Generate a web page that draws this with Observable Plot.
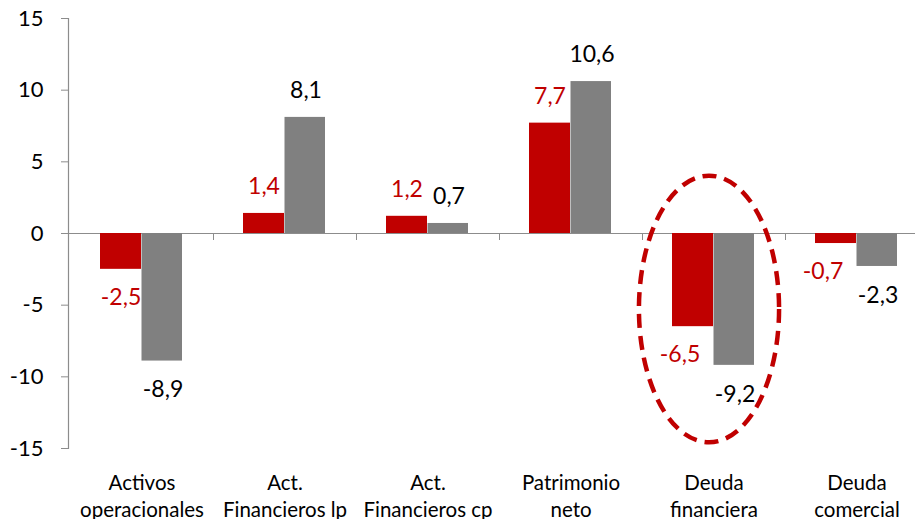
<!DOCTYPE html>
<html>
<head>
<meta charset="utf-8">
<script src="https://cdn.jsdelivr.net/npm/d3@7"></script>
<script src="https://cdn.jsdelivr.net/npm/@observablehq/plot@0.6"></script>
<style>
  html, body { margin: 0; padding: 0; background: #fff; overflow: hidden; }
  #chart svg { display: block; max-width: none !important; }
</style>
</head>
<body>
<div id="chart"></div>
<script>
const categories = ["Activos operacionales", "Act. Financieros lp", "Act. Financieros cp", "Patrimonio neto", "Deuda financiera", "Deuda comercial"];
const tickLabels = ["Activos\noperacionales", "Act.\nFinancieros lp", "Act.\nFinancieros cp", "Patrimonio\nneto", "Deuda\nfinanciera", "Deuda\ncomercial"];
const redValues = [-2.5, 1.4, 1.2, 7.7, -6.5, -0.7];
const grayValues = [-8.9, 8.1, 0.7, 10.6, -9.2, -2.3];
const yTicks = [-15, -10, -5, 0, 5, 10, 15];
const highlightCategory = "Deuda financiera";

const RED = "#C00000", GRAY = "#808080", AXIS = "#8c8c8c";
const FONT = "Lato, 'Open Sans', 'Noto Sans', sans-serif";

const redData = categories.map((c, i) => ({cat: c, v: redValues[i]}));
const grayData = categories.map((c, i) => ({cat: c, v: grayValues[i]}));
const fmt = v => v.toFixed(1).replace(".", ",");
const nudged = new Set(["Deuda financiera", "Deuda comercial"]);

function boundaryTicks(index, scales) {
  const g = d3.create("svg:g");
  const y0 = scales.y(0);
  categories.slice(1).forEach(c => {
    const x = Math.round(scales.x(c)) + 0.5;
    g.append("line").attr("x1", x).attr("x2", x).attr("y1", y0).attr("y2", y0 + 7)
      .attr("stroke", AXIS).attr("stroke-width", 1);
  });
  return g.node();
}

function highlightEllipse(index, scales) {
  const bw = scales.x.bandwidth ? scales.x.bandwidth() : (scales.x(categories[1]) - scales.x(categories[0]));
  const cx = scales.x(highlightCategory) + bw / 2 - 4.5;
  const yTop = scales.y(4), yBot = scales.y(-14.6);
  const cy = (yTop + yBot) / 2, ry = (yBot - yTop) / 2;
  const rx = bw * 0.49;
  return d3.create("svg:ellipse")
    .attr("cx", cx).attr("cy", cy).attr("rx", rx).attr("ry", ry)
    .attr("fill", "none").attr("stroke", RED).attr("stroke-width", 4.5)
    .attr("stroke-dasharray", "14,8").node();
}

const chart = Plot.plot({
  width: 930,
  height: 519,
  marginLeft: 68,
  marginRight: 1,
  marginTop: 18,
  marginBottom: 71,
  style: {fontFamily: FONT, background: "white", color: "black", overflow: "visible", maxWidth: "none"},
  x: {domain: categories, padding: 0, axis: null},
  y: {domain: [-15, 15], axis: null},
  marks: [
    Plot.ruleY([0], {stroke: AXIS, strokeWidth: 1.2}),
    Plot.barY(redData, {x: "cat", y: "v", fill: RED, insetLeft: 30, insetRight: 72}),
    Plot.barY(grayData, {x: "cat", y: "v", fill: GRAY, insetLeft: 71.5, insetRight: 31}),
    Plot.frame({anchor: "left", stroke: AXIS, strokeWidth: 1.2}),
    Plot.axisY({ticks: yTicks, label: null, tickSize: 7, tickPadding: 18, fontSize: 22, stroke: AXIS, tickFormat: d => String(d)}),
    boundaryTicks,
    // red labels
    Plot.text(redData.filter(d => d.v >= 0), {x: "cat", y: "v", text: d => fmt(d.v), fill: RED, fontSize: 23, dx: -21, dy: -27}),
    Plot.text(redData.filter(d => d.v < 0 && !nudged.has(d.cat)), {x: "cat", y: "v", text: d => fmt(d.v), fill: RED, fontSize: 23, dx: -21, dy: 28}),
    Plot.text(redData.filter(d => d.v < 0 && nudged.has(d.cat)), {x: "cat", y: "v", text: d => fmt(d.v), fill: RED, fontSize: 23, dx: -34, dy: 28}),
    // gray labels
    Plot.text(grayData.filter(d => d.v >= 0), {x: "cat", y: "v", text: d => fmt(d.v), fill: "black", fontSize: 23, dx: 21, dy: -27}),
    Plot.text(grayData.filter(d => d.v < 0), {x: "cat", y: "v", text: d => fmt(d.v), fill: "black", fontSize: 23, dx: 21, dy: 29}),
    // category labels
    Plot.text(categories, {x: d => d, text: (d, i) => tickLabels[i], frameAnchor: "bottom", lineAnchor: "top", dy: 22, lineHeight: 1.32, fontSize: 20.5, fill: "black"}),
    highlightEllipse
  ]
});
document.getElementById("chart").append(chart);
</script>
</body>
</html>
